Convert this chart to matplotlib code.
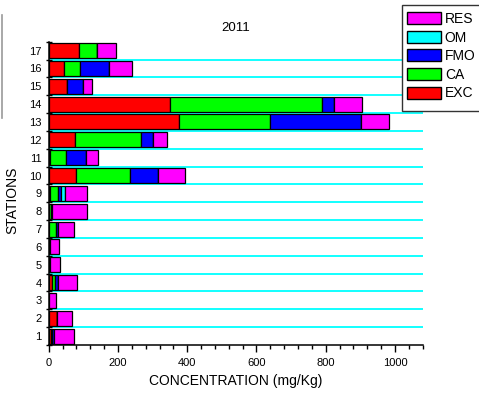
import matplotlib
matplotlib.use("Agg")
import matplotlib.pyplot as plt
from matplotlib.patches import Patch, Rectangle
from matplotlib.lines import Line2D
from matplotlib.ticker import MultipleLocator
import numpy as np

plt.rcParams['font.family'] = ['Liberation Sans', 'DejaVu Sans']

stations = list(range(1, 18))
# Fraction concentrations per station (mg/Kg)
EXC = [8, 23, 2, 10, 1, 1, 1, 2, 3, 80, 3, 77, 377, 350, 54, 43, 88]
CA  = [2, 0, 0, 8, 1, 1, 19, 6, 24, 156, 48, 189, 261, 439, 0, 48, 52]
FMO = [5, 1, 0, 8, 2, 1, 7, 2, 9, 80, 56, 35, 264, 36, 44, 82, 0]
OM  = [0, 0, 0, 2, 0, 0, 0, 0, 12, 0, 0, 0, 0, 0, 0, 0, 0]
RES = [58, 42, 20, 55, 29, 28, 46, 101, 62, 77, 36, 42, 80, 81, 26, 67, 54]

fractions = [("EXC", EXC, "#FF0000"), ("CA", CA, "#00FF00"),
             ("FMO", FMO, "#0000FF"), ("OM", OM, "#00FFFF"),
             ("RES", RES, "#FF00FF")]

W, H = 479, 394
fig = plt.figure(figsize=(W / 100, H / 100), dpi=100)
ax = fig.add_axes([48.7 / W, 1 - 345 / H, (422.7 - 48.7) / W, (345 - 41.7) / H])

# separators between stations
for yb in np.arange(1.5, 17.0, 1.0):
    ax.axhline(yb, color="#00FFFF", lw=1.3, zorder=1)

left = np.zeros(len(stations))
for name, vals, col in fractions:
    vals = np.array(vals, dtype=float)
    ax.barh(stations, vals, left=left, height=0.84, color=col,
            edgecolor="black", linewidth=0.9, zorder=3)
    left += vals

ax.set_xlim(0, 1080)
ax.set_ylim(0.5, 17.5)
ax.set_yticks(stations)
ax.set_yticklabels([str(s) for s in stations])
ax.set_yticks(np.arange(0.5, 18.0, 1.0), minor=True)
ax.tick_params(axis="y", which="major", length=0, pad=5, labelsize=8)
ax.tick_params(axis="y", which="minor", length=4, direction="inout", width=1)
ax.set_xticks([0, 200, 400, 600, 800, 1000])
ax.xaxis.set_minor_locator(MultipleLocator(40))
ax.tick_params(axis="x", which="major", length=5, width=1, labelsize=8, pad=4)
ax.tick_params(axis="x", which="minor", length=3, width=1)

for s in ("top", "right"):
    ax.spines[s].set_visible(False)
for s in ("left", "bottom"):
    ax.spines[s].set_linewidth(1.1)

ax.set_title("2011", fontsize=9.5, pad=7.5)
ax.set_xlabel("CONCENTRATION (mg/Kg)", fontsize=10, labelpad=5)
ax.set_ylabel("STATIONS", fontsize=10)
ax.yaxis.set_label_coords(-0.078, 0.478)

# legend frame and entries
fig.add_artist(Rectangle((402.3 / W, 1 - 111 / H), 100 / W, 106 / H,
                         transform=fig.transFigure, facecolor="white",
                         edgecolor="#333333", linewidth=1, zorder=5))
handles = [Patch(facecolor=c, edgecolor="black", linewidth=1, label=n)
           for n, _, c in reversed(fractions)]
leg = fig.legend(handles=handles, loc="upper left",
                 bbox_to_anchor=(407.3 / W, 1 - 12.0 / H),
                 fontsize=10, frameon=False,
                 handlelength=2.4, handleheight=0.95, handletextpad=0.3,
                 labelspacing=0.33, borderpad=0, borderaxespad=0)
leg.set_zorder(6)

fig.add_artist(Line2D([1.5 / W, 1.5 / W], [1 - 15 / H, 1 - 118 / H],
                      color="#999999", lw=1.2))

fig.savefig("out.png", dpi=100)
